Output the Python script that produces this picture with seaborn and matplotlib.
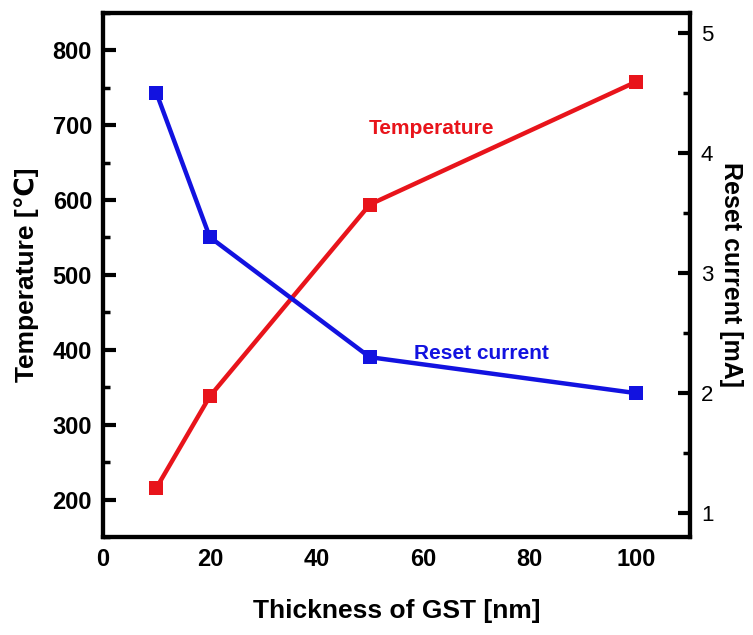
import numpy as np
import pandas as pd
import matplotlib
matplotlib.use("Agg")
import matplotlib.pyplot as plt
from matplotlib.ticker import MultipleLocator
import seaborn as sns

# data
thickness = [10, 20, 50, 100]          # GST thickness [nm]
temperature = [216, 338, 594, 758]     # [C]
reset_current = [4.5, 3.3, 2.3, 2.0]   # [mA]

df = pd.DataFrame({"Thickness": thickness,
                   "Temperature": temperature,
                   "Reset": reset_current})

sns.set_style("white")
plt.rcParams["font.family"] = ["Liberation Sans", "DejaVu Sans"]
plt.rcParams["text.color"] = "black"
plt.rcParams["axes.labelcolor"] = "black"
plt.rcParams["xtick.color"] = "black"
plt.rcParams["ytick.color"] = "black"

RED = "#E8141B"
BLUE = "#1212E0"

fig = plt.figure(figsize=(7.53, 6.35), dpi=100)
ax = fig.add_axes([0.137, 0.154, 0.779, 0.826])
ax2 = ax.twinx()

sns.lineplot(data=df, x="Thickness", y="Temperature", ax=ax, color=RED,
             marker="s", markersize=10, markeredgewidth=0, linewidth=3.2)
sns.lineplot(data=df, x="Thickness", y="Reset", ax=ax2, color=BLUE,
             marker="s", markersize=10, markeredgewidth=0, linewidth=3.2)

ax.set_xlim(0, 110)
ax.set_ylim(150, 850)
ax2.set_ylim(0.8, 5.17)

ax.xaxis.set_major_locator(MultipleLocator(20))
ax.xaxis.set_minor_locator(MultipleLocator(10))
ax.yaxis.set_minor_locator(MultipleLocator(50))
ax.set_yticks(range(200, 801, 100))
ax2.yaxis.set_minor_locator(MultipleLocator(0.5))
ax2.set_yticks([1, 2, 3, 4, 5])

for a in (ax, ax2):
    for s in a.spines.values():
        s.set_linewidth(3)
        s.set_color("black")

ax.tick_params(axis="both", which="major", direction="in", length=9, width=3,
               labelsize=17, pad=8, top=False, right=False)
ax.tick_params(axis="both", which="minor", direction="in", length=5, width=2.5,
               top=False, right=False)
ax2.tick_params(axis="y", which="major", direction="in", length=9, width=3,
                labelsize=16, pad=8)
ax2.tick_params(axis="y", which="minor", direction="in", length=5, width=2.5)

for lab in ax.get_xticklabels() + ax.get_yticklabels():
    lab.set_fontweight("bold")

ax.set_xlabel("Thickness of GST [nm]", fontsize=19, fontweight="bold", labelpad=20)
ax.set_ylabel("Temperature [\u2103]", fontsize=19, fontweight="bold", labelpad=10)
ax2.set_ylabel("Reset current [mA]", fontsize=18, fontweight="bold",
               rotation=270, labelpad=21)

ax.text(61.5, 695, "Temperature", color=RED, fontsize=15, fontweight="bold",
        ha="center", va="center")
ax.text(71, 395, "Reset current", color=BLUE, fontsize=15, fontweight="bold",
        ha="center", va="center")

fig.savefig("out.png", dpi=100)
